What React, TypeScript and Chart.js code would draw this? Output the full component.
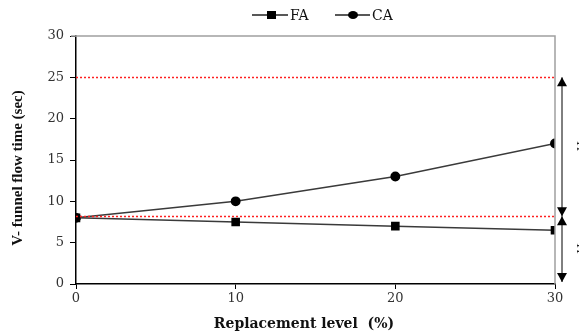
import React, { useEffect, useRef } from "react";
import { Chart, registerables } from "chart.js";

Chart.register(...registerables);

const levels = [0, 10, 20, 30];
const faValues = [8, 7.5, 7, 6.5];
const caValues = [8, 10, 13, 17];
const limitLines = [25, 8.2];
const seriesNames = ["FA", "CA"];
const yTitle = "V- funnel flow time (sec)";
const xTitle = "Replacement level  (%)";
const sideLabels = ["TF", "TF"];

const SERIF = "'Liberation Serif', 'Times New Roman', serif";
const WIDE = "'DejaVu Serif', serif";

const decor = {
  id: "decor",
  afterDraw(chart: any) {
    const ctx = chart.ctx;
    const { left, right, top, bottom } = chart.chartArea;
    const ys = chart.scales.y;
    ctx.save();
    // top & right frame
    ctx.strokeStyle = "#a0a0a0";
    ctx.lineWidth = 1.5;
    ctx.beginPath();
    ctx.moveTo(left - 5, top);
    ctx.lineTo(right, top);
    ctx.lineTo(right, bottom);
    ctx.stroke();
    // red dotted limit lines
    ctx.strokeStyle = "#ff2020";
    ctx.lineWidth = 1.5;
    ctx.setLineDash([2, 2]);
    limitLines.forEach((v) => {
      const y = Math.round(ys.getPixelForValue(v)) + 0.5;
      ctx.beginPath();
      ctx.moveTo(left, y);
      ctx.lineTo(right, y);
      ctx.stroke();
    });
    ctx.setLineDash([]);
    // arrows
    const ax = right + 7;
    const yA = ys.getPixelForValue(limitLines[0]);
    const yB = ys.getPixelForValue(limitLines[1]);
    const yC = ys.getPixelForValue(0) - 2;
    ctx.strokeStyle = "#000";
    ctx.fillStyle = "#000";
    ctx.lineWidth = 1;
    ctx.beginPath();
    ctx.moveTo(ax, yA);
    ctx.lineTo(ax, yC);
    ctx.stroke();
    const head = (tipY: number, dir: number) => {
      ctx.beginPath();
      ctx.moveTo(ax, tipY);
      ctx.lineTo(ax - 5, tipY + dir * 9);
      ctx.lineTo(ax + 5, tipY + dir * 9);
      ctx.closePath();
      ctx.fill();
    };
    head(yA, 1);
    head(yB, -1);
    head(yB, 1);
    head(yC, -1);
    // side rotated labels (clipped)
    ctx.font = `12px ${SERIF}`;
    ctx.fillStyle = "#222";
    ctx.textAlign = "center";
    ctx.textBaseline = "middle";
    const mids = [(yA + yB) / 2, (yB + yC) / 2];
    mids.forEach((m, i) => {
      ctx.save();
      ctx.translate(580, m);
      ctx.rotate(Math.PI / 2);
      ctx.fillText(sideLabels[i], 0, 0);
      ctx.restore();
    });
    // axis titles
    ctx.fillStyle = "#111";
    ctx.font = `bold 14px ${WIDE}`;
    ctx.fillText(xTitle, 304, 324);
    ctx.save();
    ctx.translate(18, 168);
    ctx.rotate(-Math.PI / 2);
    ctx.font = `bold 15px ${SERIF}`;
    ctx.fillText(yTitle, 0, 0);
    ctx.restore();
    // legend
    const ly = 15;
    ctx.strokeStyle = "#222";
    ctx.lineWidth = 1.5;
    ctx.beginPath();
    ctx.moveTo(252, ly);
    ctx.lineTo(288, ly);
    ctx.moveTo(335, ly);
    ctx.lineTo(370, ly);
    ctx.stroke();
    ctx.fillStyle = "#000";
    ctx.fillRect(267, ly - 4, 9, 8);
    ctx.beginPath();
    ctx.ellipse(353, ly, 5, 4, 0, 0, Math.PI * 2);
    ctx.fill();
    ctx.font = `14px ${WIDE}`;
    ctx.fillStyle = "#111";
    ctx.textAlign = "left";
    ctx.fillText(seriesNames[0], 290, ly + 1);
    ctx.fillText(seriesNames[1], 372, ly + 1);
    ctx.restore();
  },
};

export default function App() {
  const ref = useRef<HTMLCanvasElement>(null);
  useEffect(() => {
    document.body.style.margin = "0";
    const chart = new Chart(ref.current!, {
      type: "line",
      data: {
        datasets: [
          {
            label: seriesNames[0],
            data: levels.map((x, i) => ({ x, y: faValues[i] })),
            borderColor: "#3a3a3a",
            borderWidth: 1.5,
            pointStyle: "rect",
            pointRadius: 5,
            pointBackgroundColor: "#000",
            pointBorderColor: "#000",
          },
          {
            label: seriesNames[1],
            data: levels.map((x, i) => ({ x, y: caValues[i] })),
            borderColor: "#3a3a3a",
            borderWidth: 1.5,
            pointStyle: "circle",
            pointRadius: 4.2,
            pointBackgroundColor: "#000",
            pointBorderColor: "#000",
          },
        ],
      },
      options: {
        responsive: false,
        animation: false,
        layout: { padding: { top: 36, right: 24, left: 0, bottom: 0 } },
        plugins: { legend: { display: false }, tooltip: { enabled: false } },
        scales: {
          x: {
            type: "linear",
            min: 0,
            max: 30,
            ticks: {
              stepSize: 10,
              color: "#333",
              font: { family: WIDE, size: 13 },
              padding: 2,
            },
            grid: {
              drawOnChartArea: false,
              color: "#000",
              tickLength: 5,
            },
            border: { color: "#000", width: 1.5 },
            title: { display: false },
            afterFit(s: any) {
              s.height = 52;
            },
          },
          y: {
            min: 0,
            max: 30,
            ticks: {
              stepSize: 5,
              color: "#333",
              font: { family: WIDE, size: 13 },
              padding: 6,
            },
            grid: {
              drawOnChartArea: false,
              color: "#000",
              tickLength: 6,
            },
            border: { color: "#000", width: 1.5 },
            title: { display: false },
            afterFit(s: any) {
              s.width = 76;
            },
          },
        },
      } as any,
      plugins: [decor],
    });
    return () => chart.destroy();
  }, []);
  return (
    <div style={{ width: 579, height: 336, background: "#fff" }}>
      <canvas ref={ref} width={579} height={336} />
    </div>
  );
}
